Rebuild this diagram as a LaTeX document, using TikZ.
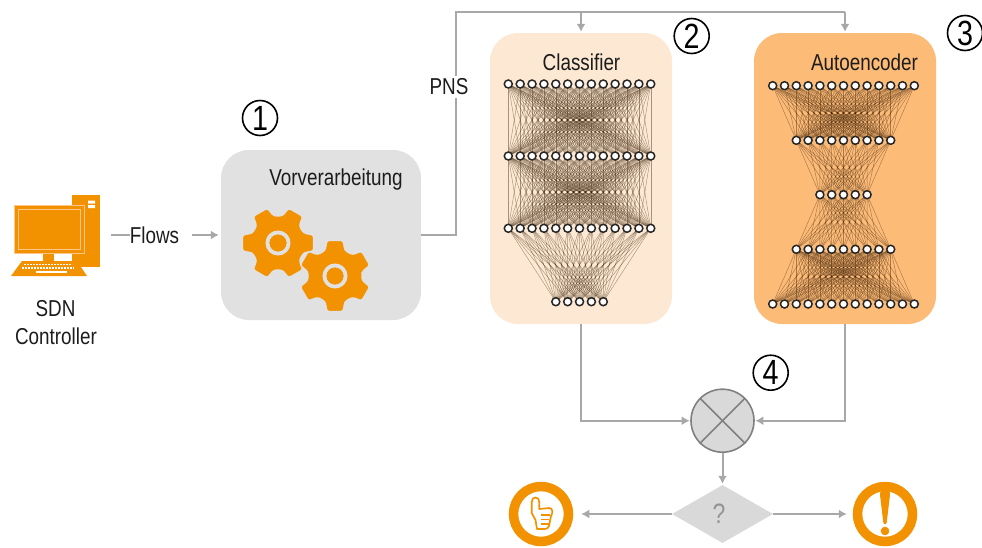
\documentclass[tikz,border=0pt]{standalone}
\usepackage{fontspec}
\setmainfont[FakeStretch=0.82]{Liberation Sans}
\usetikzlibrary{arrows.meta,shapes.geometric}
\pgfdeclarelayer{panel}
\pgfdeclarelayer{edges}
\pgfsetlayers{panel,edges,main}
\definecolor{org}{HTML}{F39200}
\definecolor{conn}{HTML}{A8A8A8}
\definecolor{txt}{HTML}{1C1C1C}
\definecolor{clfbg}{HTML}{FDE9D3}
\definecolor{aebg}{HTML}{FDBB78}
\definecolor{prebg}{HTML}{E1E1E1}
\definecolor{decbg}{HTML}{D9D9D9}
\tikzset{
  panelbox/.style={rounded corners=28pt,inner sep=0pt,draw=none},
  lbl/.style={font=\fontsize{23}{26}\selectfont,text=txt,inner sep=0pt},
  numcirc/.style={circle,draw=black,line width=1.6pt,minimum size=35pt,inner sep=0pt,font=\fontsize{35}{35}\selectfont,text=black},
  neuron/.style={circle,draw=black!85,fill=white,line width=1.5pt,minimum size=8pt,inner sep=0pt},
  nnedge/.style={draw=black!80!orange,line width=0.45pt,opacity=0.42},
  conline/.style={draw=conn,line width=2pt},
  conarrow/.style={conline,-{Latex[length=8pt,width=9pt]}}
}
\newcommand{\gearicon}[3]{%
  \begin{scope}[shift={(#1,#2)}]
    \filldraw[draw=prebg,line width=1.5pt,fill=org,rounded corners=2.5pt]
      ({#3-21}:27.5)
      \foreach \a in {0,60,...,300}{
        -- ({#3+\a-21}:27.5) -- ({#3+\a-13}:36.5) -- ({#3+\a+13}:36.5) -- ({#3+\a+21}:27.5)
      } -- cycle;
    \draw[prebg,line width=4pt] (0,0) circle[radius=10.5];
    \fill[org] (0,0) circle[radius=8.5];
  \end{scope}}
\newcommand{\nnlayer}[5]{% name, count, first x, y, spacing
  \foreach \k in {1,...,#2}{
    \node[neuron] (#1-\k) at ({#3+(\k-1)*#5},#4) {};
  }}
\newcommand{\nnlink}[4]{%
  \begin{pgfonlayer}{edges}
    \foreach \i in {1,...,#2}{
      \foreach \j in {1,...,#4}{
        \draw[nnedge] (#1-\i.center) -- (#3-\j.center);
      }
    }
  \end{pgfonlayer}}
\begin{document}
\begin{tikzpicture}[x=1pt,y=-1pt]
\useasboundingbox (0,0) rectangle (982,547);
% panels
\begin{pgfonlayer}{panel}
  \node[panelbox,fill=prebg,minimum width=200pt,minimum height=170pt] (pre) at (321,235) {};
  \node[panelbox,fill=clfbg,minimum width=182pt,minimum height=291pt] (clf) at (581,178.5) {};
  \node[panelbox,fill=aebg,minimum width=182pt,minimum height=291pt] (ae) at (845,178.5) {};
\end{pgfonlayer}
% computer
\fill[org] (72,195) rectangle (100,267);
\fill[white] (88,200.5) rectangle (95,203.5) (88,205) rectangle (95,208);
\filldraw[fill=org,draw=orange!45!white,line width=0.8pt] (14,205) rectangle (84,253);
\draw[orange!45!white,line width=0.8pt] (18.5,209.5) rectangle (80,249);
\fill[org] (43,253.5) rectangle (54,261);
\fill[org] (22,261) -- (77,261) -- (87,276) -- (11,276) -- cycle;
\draw[white,line width=1.4pt,dash pattern=on 2pt off 1pt] (24,264.3) -- (72,264.3);
\draw[white,line width=1.4pt,dash pattern=on 2pt off 1pt] (22,267.8) -- (74,267.8);
\draw[white,line width=1.4pt] (36,272) -- (67,272);
% gears
\gearicon{278}{243}{0}
\gearicon{335}{276}{30}
% labels
\node[lbl] (sdn) at (55.5,309) {SDN};
\node[lbl] (ctrl) at (56,336) {Controller};
\node[lbl] (flows) at (154.5,235) {Flows};
\node[lbl] (vorlbl) at (336,179.5) {Vorverarbeitung};
\node[lbl] (clflbl) at (581.5,62.5) {Classifier};
\node[lbl] (aelbl) at (864.5,62.5) {Autoencoder};
\node[numcirc] (n1) at (260,118) {1};
\node[numcirc] (n2) at (691.7,36) {2};
\node[numcirc] (n3) at (965,33) {3};
\node[numcirc] (n4) at (770.7,372.7) {4};
% classifier network
\nnlayer{ca}{13}{508.3}{84}{11.87}
\nnlayer{cb}{13}{508.3}{156}{11.87}
\nnlayer{cc}{13}{508.3}{228.3}{11.87}
\nnlayer{cd}{5}{555.8}{301.7}{11.87}
\nnlink{ca}{13}{cb}{13}
\nnlink{cb}{13}{cc}{13}
\nnlink{cc}{13}{cd}{5}
% autoencoder network
\nnlayer{aa}{13}{772.7}{85.7}{11.8}
\nnlayer{ab}{9}{796.3}{140.3}{11.8}
\nnlayer{ac}{5}{819.9}{194.7}{11.8}
\nnlayer{ad}{9}{796.3}{249.3}{11.8}
\nnlayer{ae}{13}{772.7}{304}{11.8}
\nnlink{aa}{13}{ab}{9}
\nnlink{ab}{9}{ac}{5}
\nnlink{ac}{5}{ad}{9}
\nnlink{ad}{9}{ae}{13}
% decision nodes
\node[circle,draw=black!50,fill=decbg,line width=1.6pt,minimum size=63pt,inner sep=0pt] (xor) at (722.5,420.7) {};
\draw[black!50,line width=1.6pt] (xor.north west) -- (xor.south east);
\draw[black!50,line width=1.6pt] (xor.north east) -- (xor.south west);
\node[diamond,fill=decbg,aspect=1.74,minimum width=101pt,minimum height=58pt,inner sep=0pt] (dec) at (722.5,514) {};
\node[text=black!42,font=\fontsize{28}{28}\selectfont,inner sep=0pt] (qm) at (719,514) {?};
\node[circle,draw=org,line width=9.5pt,fill=white,minimum size=55pt,inner sep=0pt] (ok) at (541,514) {};
\node[circle,draw=org,line width=9.5pt,fill=white,minimum size=55pt,inner sep=0pt] (alarm) at (885,514) {};
% thumb icon
\begin{scope}[shift={(541,513)},draw=org,line width=1.7pt,line join=round]
  \draw[org] (-9.3,-11) .. controls (-9.3,-17) and (-1.7,-17) .. (-1.7,-11) -- (-1.7,-4)
    -- (8,-5) .. controls (12,-5) and (12,0) .. (10,3) -- (8,13) .. controls (7,15) and (6,16) .. (4,16)
    -- (-4,16) -- (-5.5,7) -- (-9.3,0) -- cycle;
  \draw[org] (0,2) -- (9,2) (0,6.5) -- (8,6.5) (0,11) -- (7.5,11);
\end{scope}
% exclamation mark
\fill[org,rounded corners=1pt] (880,495) .. controls (880,487.5) and (890,487.5) .. (890,495) -- (886.5,524) -- (883.5,524) -- cycle;
\fill[org] (885,531) circle[radius=4.3];
% connectors
\coordinate (topleft) at (456,12);
\coordinate (pcout) at (111,235);
\coordinate (flowsout) at (192,235);
\coordinate (clfin) at (581,12);
\draw[conline] (pcout) -- (130,235);
\draw[conarrow,shorten >=2pt] (flowsout) -- (pre.west);
\draw[conline] (pre.east) -| (topleft) -- (ae.north |- topleft);
\draw[conarrow,shorten >=1pt] (ae.north |- topleft) -- (ae.north);
\draw[conarrow,shorten >=1pt] (clfin) -- (clf.north);
\node[lbl,fill=white,inner sep=3pt] (pns) at (449,87) {PNS};
\draw[conarrow,shorten >=0.5pt] (clf.south) |- (xor.west);
\draw[conarrow,shorten >=0.5pt] (ae.south) |- (xor.east);
\draw[conarrow,shorten >=1pt] (xor.south) -- (dec.north);
\draw[conarrow,shorten >=8pt] (dec.west) -- (ok.east);
\draw[conarrow,shorten >=6pt] (dec.east) -- (alarm.west);
\end{tikzpicture}
\end{document}
